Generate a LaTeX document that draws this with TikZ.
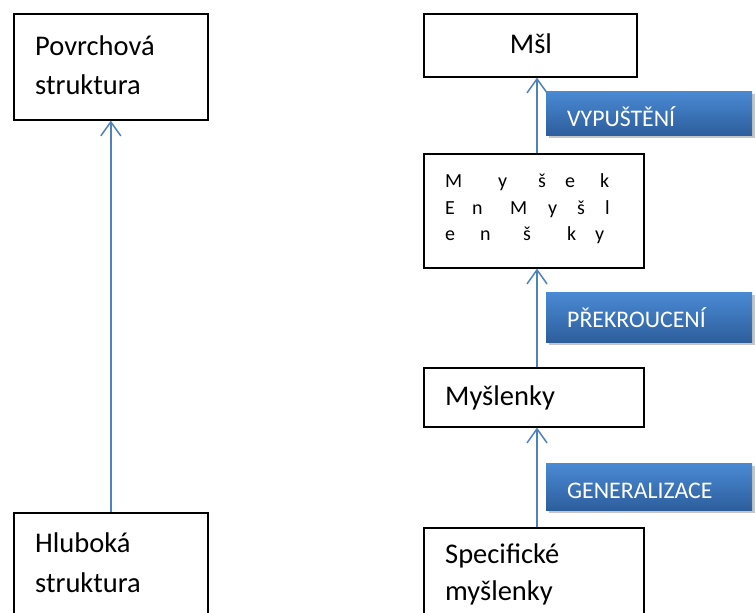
\documentclass[tikz,border=0pt]{standalone}
\usepackage{fontspec}
\setmainfont{Carlito}
\usetikzlibrary{arrows.meta,shadows}
\definecolor{arrowblue}{HTML}{4F81BD}
\definecolor{labtop}{HTML}{4A8AD4}
\definecolor{labbot}{HTML}{2D5E9C}
\tikzset{
  box/.style={draw=black,line width=1.6pt,anchor=north west,inner sep=0pt},
  bigtxt/.style={anchor=base west,inner sep=0pt,font=\fontsize{28.5}{34}\selectfont},
  smalltxt/.style={anchor=base west,inner sep=0pt,font=\fontsize{20}{24}\selectfont},
  lab/.style={anchor=north west,inner sep=0pt,top color=labtop,bottom color=labbot,
    drop shadow={shadow xshift=3pt,shadow yshift=-3pt,fill=black!45,opacity=.5}},
  labtxt/.style={anchor=base west,inner sep=0pt,text=white,font=\fontsize{23.8}{28}\selectfont},
  conn/.style={draw=arrowblue,line width=1.5pt,-{Straight Barb[length=14pt,width=20pt,line width=1.5pt]}}
}
\begin{document}
\begin{tikzpicture}[x=1pt,y=-1pt]
\useasboundingbox (0,0) rectangle (755,613);
\clip (0,0) rectangle (755,613);
% left column
\node[box,minimum width=194pt,minimum height=106pt] (povr) at (13,13) {};
\node[bigtxt] (povrt1) at (35,55) {Povrchová};
\node[bigtxt] (povrt2) at (35,94) {struktura};
\node[box,minimum width=194pt,minimum height=110pt] (hlub) at (13,512) {};
\node[bigtxt] (hlubt1) at (35,552) {Hluboká};
\node[bigtxt] (hlubt2) at (35,592) {struktura};
\draw[conn] (hlub.north) -- (povr.south);
% right column
\coordinate (ax) at (537,0);
\node[box,minimum width=213pt,minimum height=63pt] (msl) at (423,13) {};
\node[anchor=base,inner sep=0pt,font=\fontsize{28.5}{34}\selectfont] (mslt) at (531,53) {Mšl};
\node[box,minimum width=220pt,minimum height=114pt] (mysek) at (423,153) {};
\node[smalltxt] (a1) at (445,187) {M};
\node[smalltxt] (a2) at (498,187) {y};
\node[smalltxt] (a3) at (538,187) {š};
\node[smalltxt] (a4) at (565,187) {e};
\node[smalltxt] (a5) at (600,187) {k};
\node[smalltxt] (b1) at (445,214) {E};
\node[smalltxt] (b2) at (472,214) {n};
\node[smalltxt] (b3) at (510,214) {M};
\node[smalltxt] (b4) at (548,214) {y};
\node[smalltxt] (b5) at (577,214) {š};
\node[smalltxt] (b6) at (605,214) {l};
\node[smalltxt] (c1) at (445,240) {e};
\node[smalltxt] (c2) at (480,240) {n};
\node[smalltxt] (c3) at (523,240) {š};
\node[smalltxt] (c4) at (567,240) {k};
\node[smalltxt] (c5) at (595,240) {y};
\node[box,minimum width=220pt,minimum height=59pt] (mysl) at (423,367) {};
\node[bigtxt] (myslt) at (445,405) {Myšlenky};
\node[box,minimum width=220pt,minimum height=100pt] (spec) at (423,527) {};
\node[bigtxt] (spect1) at (445,563) {Specifické};
\node[bigtxt] (spect2) at (445,600) {myšlenky};
% labels
\node[lab,minimum width=206pt,minimum height=44pt] (l1) at (546,91) {};
\node[labtxt] (l1t) at (567,126) {VYPUŠTĚNÍ};
\node[lab,minimum width=206pt,minimum height=50pt] (l2) at (546,292) {};
\node[labtxt] (l2t) at (567,327) {PŘEKROUCENÍ};
\node[lab,minimum width=206pt,minimum height=47pt] (l3) at (546,463) {};
\node[labtxt] (l3t) at (567,498) {GENERALIZACE};
% connectors
\draw[conn] (spec.north -| ax) -- (mysl.south -| ax);
\draw[conn] (mysl.north -| ax) -- (mysek.south -| ax);
\draw[conn] (mysek.north -| ax) -- (msl.south -| ax);
\end{tikzpicture}
\end{document}
